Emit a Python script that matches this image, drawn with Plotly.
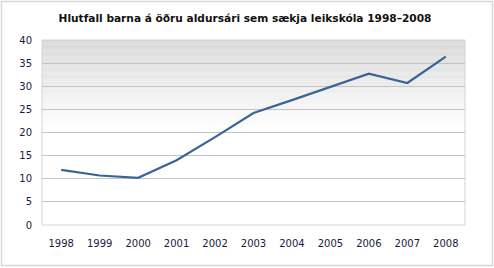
import plotly.graph_objects as go

years = ["1998", "1999", "2000", "2001", "2002", "2003", "2004", "2005", "2006", "2007", "2008"]
values = [11.9, 10.7, 10.2, 14.0, 19.0, 24.2, 27.0, 29.8, 32.7, 30.7, 36.4]
y_ticks = [0, 5, 10, 15, 20, 25, 30, 35, 40]
title_text = "Hlutfall barna á öðru aldursári sem sækja leikskóla 1998–2008"

W, H = 494, 268
L, R, T, B = 42, 29, 40, 43
pw, ph = W - L - R, H - T - B

fig = go.Figure()
fig.add_trace(go.Scatter(
    x=years, y=values, mode="lines",
    line=dict(color="#3a6397", width=2.2),
    hoverinfo="skip", showlegend=False,
))

shapes = []
# gradient background from top (gray) to middle (white)
n = 40
for i in range(n):
    y0 = 0.5 + 0.5 * i / n
    y1 = 0.5 + 0.5 * (i + 1) / n
    t = (i + 0.5) / n
    c = int(round(255 - (255 - 216) * t ** 1.1))
    shapes.append(dict(type="rect", xref="x domain", yref="y domain",
                       x0=0, x1=1, y0=y0, y1=y1, line=dict(width=0),
                       fillcolor=f"rgb({c},{c},{c})", layer="below"))
# plot frame
shapes.append(dict(type="rect", xref="x domain", yref="y domain", x0=0, x1=1, y0=0, y1=1,
                   line=dict(color="#d4d4d4", width=1), layer="below"))
# outer frame
shapes.append(dict(type="rect", xref="paper", yref="paper",
                   x0=(1.5 - L) / pw, x1=(492.5 - L) / pw,
                   y0=(H - B - 265.5) / ph, y1=(H - B - 1.5) / ph,
                   line=dict(color="#d8d8d8", width=1.5), layer="below"))

fig.update_layout(
    width=W, height=H,
    margin=dict(l=L, r=R, t=T, b=B),
    paper_bgcolor="white", plot_bgcolor="white",
    shapes=shapes,
    title=dict(text=title_text, x=(245 - L) / pw, xref="paper", xanchor="center",
               y=1 - 18 / H, yanchor="middle",
               font=dict(family="DejaVu Sans", size=10.6, color="#111111", weight="bold")),
    xaxis=dict(type="category", range=[-0.5, 10.5], showgrid=False, zeroline=False,
               showline=False, ticks="", tickfont=dict(family="DejaVu Sans", size=10, color="#1a1a40"),
               ticklabelstandoff=11, fixedrange=True),
    yaxis=dict(range=[0, 40], tickvals=y_ticks, showgrid=True, gridcolor="#c4c4c4", gridwidth=1,
               zeroline=False, showline=False, ticks="",
               tickfont=dict(family="DejaVu Sans", size=10, color="#1a1a40"),
               ticklabelstandoff=9, fixedrange=True),
)

fig.write_html("out.html", config={"displayModeBar": False})
